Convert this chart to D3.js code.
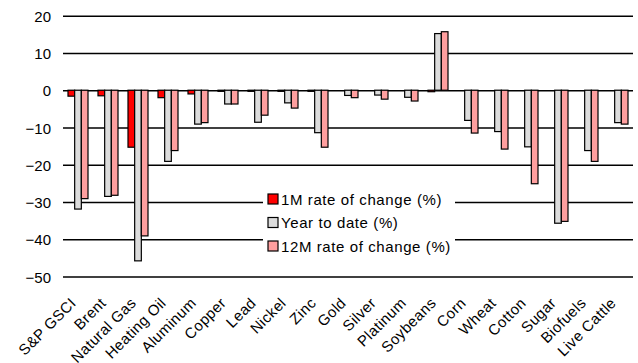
<!DOCTYPE html>
<html>
<head>
<meta charset="utf-8">
<script src="https://cdn.jsdelivr.net/npm/d3@7"></script>
<style>
  html, body { margin: 0; padding: 0; background: #ffffff; }
  svg { display: block; font-family: "Liberation Sans", Arial, sans-serif; }
</style>
</head>
<body>
<svg id="chart" width="638" height="363"></svg>
<script>
// Commodity returns by horizon (%)
const categories = ["S&P GSCI", "Brent", "Natural Gas", "Heating Oil", "Aluminum", "Copper", "Lead",
  "Nickel", "Zinc", "Gold", "Silver", "Platinum", "Soybeans", "Corn", "Wheat", "Cotton", "Sugar",
  "Biofuels", "Live Cattle"];
const oneMonth    = [-1.6, -1.5, -15.3, -2.0, -1.0, -0.3, -0.3, -0.3, -0.3, 0, 0, 0, -0.4, 0, 0, 0, 0, 0, 0];
const yearToDate  = [-31.9, -28.5, -45.8, -19.1, -9.1, -3.7, -8.6, -3.4, -11.4, -1.4, -1.3, -1.9, 15.2, -8.1, -11.1, -15.2, -35.7, -16.2, -8.7];
const twelveMonth = [-29.1, -28.2, -39.1, -16.2, -8.7, -3.7, -6.7, -4.8, -15.3, -2.0, -2.4, -2.9, 15.7, -11.5, -15.8, -25.1, -35.2, -19.1, -9.1];
const seriesNames = ["1M rate of change (%)", "Year to date (%)", "12M rate of change (%)"];
const seriesColors = ["#ff0000", "#dcdcdc", "#ff9f9f"];
const yTicks = [20, 10, 0, -10, -20, -30, -40, -50];

const series = [oneMonth, yearToDate, twelveMonth];
const svg = d3.select("#chart");

const x0 = d3.scaleBand().domain(categories).range([63, 633]).padding(0);
const x1 = d3.scaleBand().domain(d3.range(series.length)).range([5, x0.bandwidth() - 5]).padding(0);
const y = d3.scaleLinear().domain([-50, 20]).range([276.5, 15.7]);

// horizontal gridlines with left-side labels
const yAxis = d3.axisLeft(y).tickValues(yTicks).tickSize(-(633 - 63)).tickPadding(12).tickFormat(d3.format("d"));
const gy = svg.append("g").attr("transform", "translate(63,0)").call(yAxis);
gy.select(".domain").remove();
gy.selectAll(".tick line").attr("stroke", "#000").attr("stroke-width", 1.6);
gy.selectAll(".tick text")
  .attr("font-size", 15)
  .attr("fill", "#000")
  .attr("dy", "0.38em");

// grouped bars
const groups = svg.append("g").selectAll("g")
  .data(categories)
  .join("g")
  .attr("transform", d => `translate(${x0(d)},0)`);

groups.selectAll("rect")
  .data((d, i) => series.map((s, k) => ({ k, v: s[i] })))
  .join("rect")
  .attr("x", d => x1(d.k))
  .attr("width", x1.bandwidth())
  .attr("y", d => y(Math.max(0, d.v)))
  .attr("height", d => Math.abs(y(d.v) - y(0)))
  .attr("fill", d => seriesColors[d.k])
  .attr("stroke", "#000")
  .attr("stroke-width", 1.2);

// rotated category labels
const gx = svg.append("g");
gx.selectAll("text")
  .data(categories)
  .join("text")
  .attr("transform", d => `translate(${x0(d) + x0.bandwidth() / 2 - 1},304) rotate(-45)`)
  .attr("text-anchor", "end")
  .attr("font-size", 15)
  .attr("letter-spacing", 0.4)
  .attr("fill", "#000")
  .text(d => d);

// legend
const legend = svg.append("g");
legend.append("rect")
  .attr("x", 263).attr("y", 186).attr("width", 192).attr("height", 70)
  .attr("fill", "#fff");
const rowY = [199, 222.5, 246];
const items = legend.selectAll("g.item")
  .data(seriesNames)
  .join("g")
  .attr("class", "item")
  .attr("transform", (d, i) => `translate(268,${rowY[i]})`);
items.append("rect")
  .attr("x", 0).attr("y", -5).attr("width", 10).attr("height", 10)
  .attr("fill", (d, i) => seriesColors[i])
  .attr("stroke", "#000").attr("stroke-width", 1.2);
items.append("text")
  .attr("x", 13).attr("y", 5.5)
  .attr("font-size", 15)
  .attr("letter-spacing", 0.6)
  .attr("fill", "#000")
  .text(d => d);
</script>
</body>
</html>
